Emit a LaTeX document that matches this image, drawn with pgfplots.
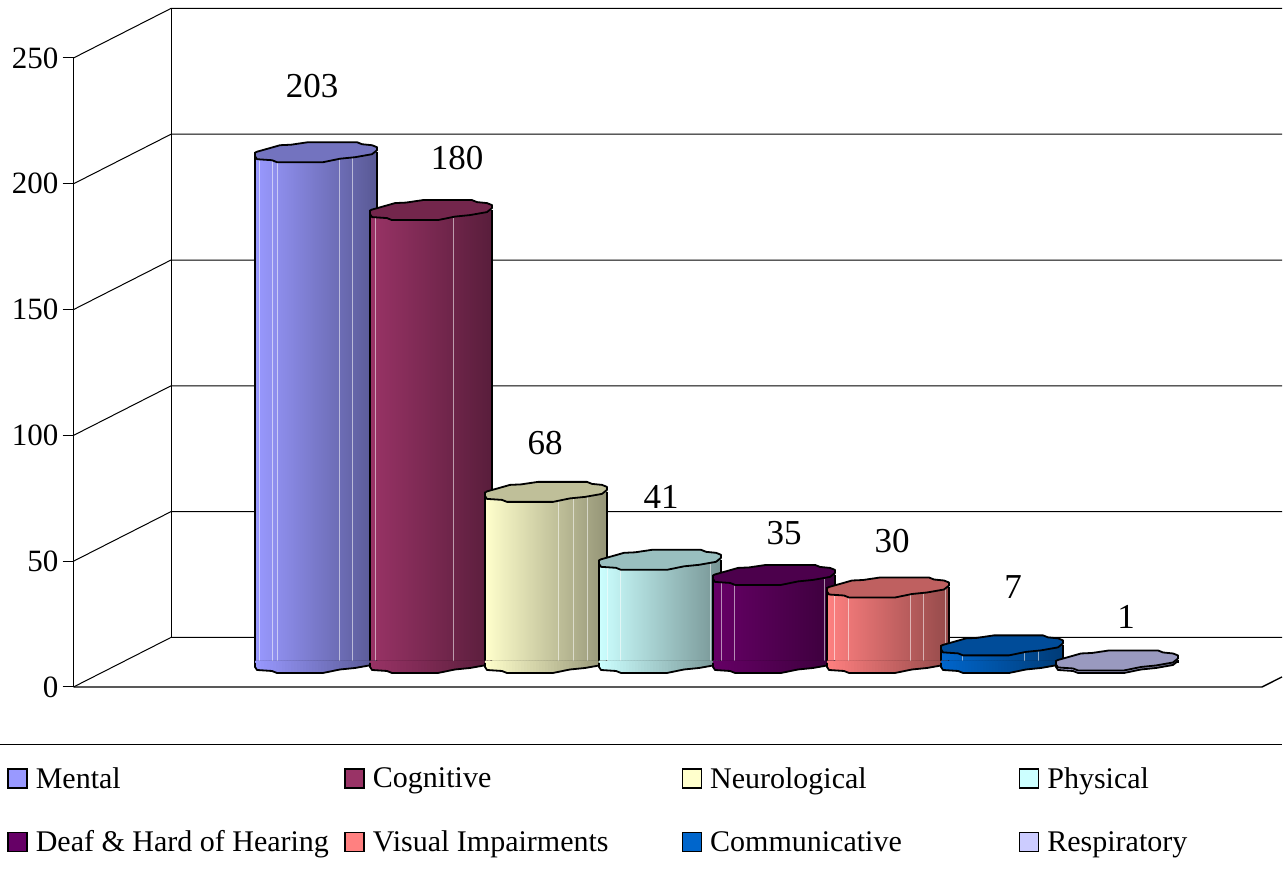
\documentclass[border=0pt]{standalone}
\usepackage{fontspec}
\setmainfont{Liberation Serif}
\usepackage{pgfplots}
\pgfplotsset{compat=1.18}
\definecolor{baseA}{RGB}{153,153,255}
\definecolor{baseB}{RGB}{153,51,102}
\definecolor{baseC}{RGB}{255,255,204}
\definecolor{baseD}{RGB}{204,255,255}
\definecolor{baseE}{RGB}{102,0,102}
\definecolor{baseF}{RGB}{255,128,128}
\definecolor{baseG}{RGB}{0,102,204}
\definecolor{baseH}{RGB}{204,204,255}
\newcommand\defcyl[1]{%
  \colorlet{top#1}{base#1!75!black}%
  \colorlet{dark#1}{base#1!58!black}%
  \pgfdeclareplotmark{top#1}{%
    \path[fill=top#1,draw=black,line width=1.8pt,line join=round]
      (-61pt,-4pt)--(-61pt,-0.5pt)--(-59pt,0.5pt)--(-43pt,5pt)--(-36pt,7pt)--(-25pt,7.5pt)--(-8pt,10pt)
      --(41pt,10pt)--(46pt,8pt)--(56pt,7pt)--(61pt,5pt)--(61pt,2pt)
      --(56pt,-2pt)--(39pt,-5pt)--(24pt,-6.5pt)--(7pt,-10pt)--(-39pt,-10pt)--(-44pt,-8pt)--(-59pt,-7pt)--cycle;}%
  \pgfdeclareplotmark{bot#1}{%
    \begin{scope}
    \clip (-61pt,2pt)--(-61pt,-4pt)--(-59pt,-7pt)--(-44pt,-8pt)--(-39pt,-10pt)--(7pt,-10pt)--(24pt,-6.5pt)--(39pt,-5pt)
      --(56pt,-2pt)--(61pt,2pt)--cycle;
    \foreach \i in {-61,-58,...,59}{%
      \pgfmathsetmacro\p{100-100*(\i+62.5)/122}%
      \fill[color=base#1!\p!dark#1] (\i pt,-12pt) rectangle (\i pt+4pt,4pt);}%
    \end{scope}
    \path[draw=black,line width=1.8pt,line join=round]
      (-61pt,0pt)--(-61pt,-4pt)--(-59pt,-7pt)--(-44pt,-8pt)--(-39pt,-10pt)--(7pt,-10pt)--(24pt,-6.5pt)--(39pt,-5pt)
      --(56pt,-2pt)--(61pt,2pt);}%
}
\defcyl{A}\defcyl{B}\defcyl{C}\defcyl{D}\defcyl{E}\defcyl{F}\defcyl{G}\defcyl{H}
% #1 key, #2 centre x, #3 value, #4 label xshift, #5 label yshift, #6 facet coordinates, #7 name, #8 left x, #9 right x
\newcommand\cyl[9]{%
  \addplot[only marks,forget plot,mark=bot#1] coordinates {(#2,0)};
  \addplot[ybar,bar width=122,bar shift=0pt,draw=none,
    left color=base#1,right color=dark#1,
    nodes near coords,
    nodes near coords style={anchor=center,xshift=#4pt,yshift=#5pt,text=black,
      font=\fontsize{35pt}{40pt}\selectfont,/pgf/number format/assume math mode=true},
    legend image code/.code={\pgfsetstrokecolor{black}\pgfsetfillcolor{base#1}\pgfsetlinewidth{1.5pt}%
      \pgfpathrectangle{\pgfpoint{0pt}{-9.5pt}}{\pgfpoint{19pt}{19pt}}\pgfusepath{fill,stroke}}]
    coordinates {(#2,#3)};
  \addlegendentry{\makebox[316.7pt][l]{\hspace{8pt}#7}}
  \addplot[ycomb,forget plot,white,opacity=0.55,line width=0.8pt,no markers] coordinates {#6};
  \addplot[ycomb,forget plot,black,line width=1.8pt,no markers] coordinates {(#8,#3)(#9,#3)};
  \addplot[only marks,forget plot,mark=top#1] coordinates {(#2,#3)};
}
\begin{document}
\begin{tikzpicture}
\path[use as bounding box] (0pt,0pt) rectangle (1288pt,872pt);
% walls and value axis: front 0 at pixel 687, 250 at pixel 58
\begin{axis}[
  at={(73.5pt,185pt)},anchor=south west,
  scale only axis,width=1188.5pt,height=629pt,
  xmin=73.5,xmax=1262,ymin=0,ymax=250,
  clip=false,
  axis x line=none,
  axis y line=left,
  axis line style={-,black,line width=1pt},
  ytick={0,50,100,150,200,250},
  tick align=outside,
  major tick length=11pt,
  ytick style={black,line width=1pt},
  /pgf/number format/assume math mode=true,
  yticklabel style={font=\fontsize{31pt}{36pt}\selectfont,inner sep=0pt,xshift=-4pt},
]
\addplot[black,line width=1pt] coordinates {(73.5,0)(171,19.7)(1282,19.7)};
\addplot[black,line width=1pt] coordinates {(73.5,50)(171,69.7)(1282,69.7)};
\addplot[black,line width=1pt] coordinates {(73.5,100)(171,119.7)(1282,119.7)};
\addplot[black,line width=1pt] coordinates {(73.5,150)(171,169.7)(1282,169.7)};
\addplot[black,line width=1pt] coordinates {(73.5,200)(171,219.7)(1282,219.7)};
\addplot[black,line width=1pt] coordinates {(73.5,250)(171,269.7)(1282,269.7)};
\addplot[black,line width=1pt] coordinates {(171,19.7)(171,269.7)};
\addplot[black,line width=1.4pt] coordinates {(73.5,0)(1262,0)(1282,4)};
\addplot[black,line width=1.2pt] coordinates {(-1,-23)(1282,-23)};
\end{axis}
% cylinders: value 0 at pixel 663
\begin{axis}[
  at={(0pt,0pt)},anchor=south west,
  scale only axis,width=1288pt,height=872pt,
  xmin=0,xmax=1288,ymin=-83.07,ymax=263.5,
  hide axis,clip=false,
  legend columns=4,
  legend cell align=left,
  legend style={at={(0.0055,0.1204)},anchor=north west,draw=none,fill=none,inner sep=0pt,
    font=\fontsize{30pt}{34pt}\selectfont,
    /tikz/row sep=41pt,
    nodes={inner xsep=0pt,inner ysep=0pt},
  },
]
\cyl{A}{316}{203}{-4}{66}{(259,203)(272,203)(277,203)(339,203)(352,203)}{Mental}{255}{377}
\cyl{B}{431}{180}{26}{52}{(375,180)(453,180)}{Cognitive}{370}{492}
\cyl{C}{546}{68}{-1}{49}{(558,68)(573,68)(587,68)}{Neurological}{485}{607}
\cyl{D}{660}{41}{1}{63}{(607,41)(620,41)(710,41)}{Physical}{599}{721}
\cyl{E}{774}{35}{10}{42}{(721,35)(734,35)(824,35)}{Deaf \& Hard of Hearing}{713}{835}
\cyl{F}{888}{30}{4}{46}{(834,30)(848,30)(910,30)(923,30)(945,30)}{Visual Impairments}{827}{949}
\cyl{G}{1002}{7}{11}{58}{(962,7)(1024,7)(1038,7)}{Communicative}{941}{1063}
\cyl{H}{1117}{1}{9}{44}{(1117,1)}{Respiratory}{1056}{1178}
\end{axis}
\end{tikzpicture}
\end{document}
